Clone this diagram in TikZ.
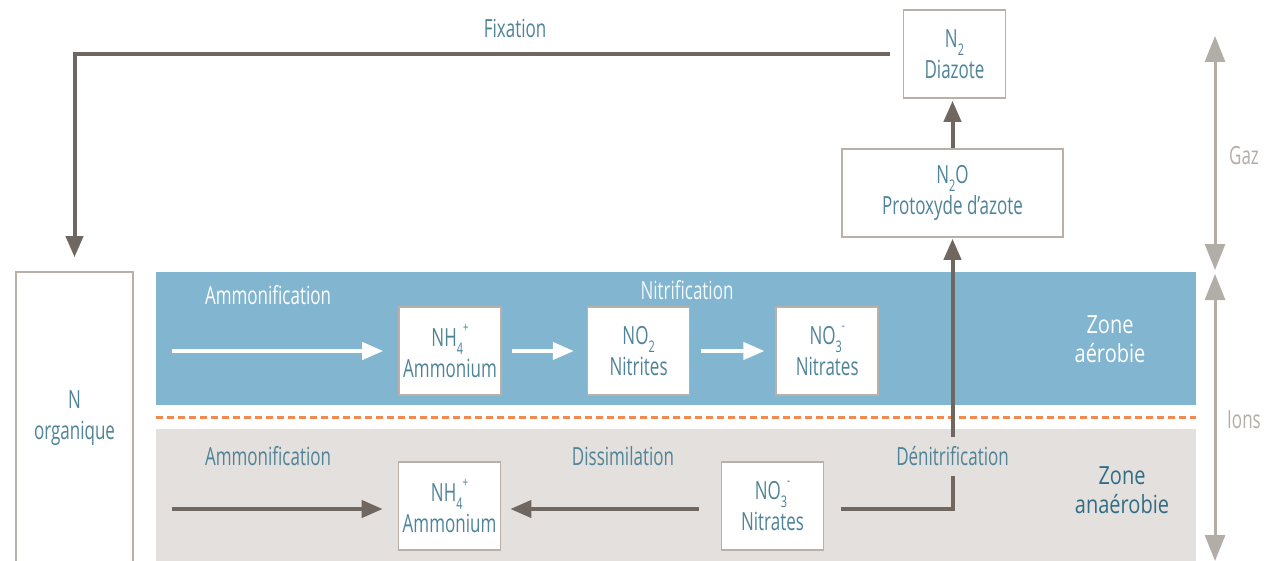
\documentclass[tikz,border=0pt]{standalone}
\usepackage{fontspec}
\setmainfont{Open Sans}[FakeStretch=0.68]
\newfontfamily\zonefont{Open Sans}[FakeStretch=0.8]
\usetikzlibrary{arrows.meta,positioning}
\definecolor{aerobie}{HTML}{82B5CF}
\definecolor{anaerobie}{HTML}{E4E0DD}
\definecolor{cadre}{HTML}{B9B1A9}
\definecolor{brunflux}{HTML}{706761}
\definecolor{bleutexte}{HTML}{4E8398}
\definecolor{bleufonce}{HTML}{316D86}
\definecolor{grisechelle}{HTML}{B3ADA7}
\definecolor{limite}{HTML}{F08A50}
\newcommand{\chembas}[1]{\raisebox{-0.6ex}{\fontsize{8}{8}\selectfont#1}}
\newcommand{\chemhaut}[1]{\raisebox{1.1ex}{\fontsize{7}{7}\selectfont#1}}

\begin{document}
\begin{tikzpicture}[x=0.5pt, y=-0.5pt, node distance=42.5pt,
  every node/.style={font=\fontsize{12.5}{15.5}\selectfont, text=bleutexte},
  espece/.style={draw=cadre, fill=white, line width=0.8pt, minimum width=51pt, minimum height=44pt, align=center, inner sep=1pt},
  fleche/.style={-{Triangle[length=10.5pt,width=8.5pt]}, line width=2pt, draw=brunflux},
  blanche/.style={fleche, draw=white},
  echelle/.style={{Triangle[length=13pt,width=10pt]}-{Triangle[length=13pt,width=10pt]}, line width=1.5pt, draw=grisechelle},
  zone/.style={font=\zonefont\fontsize{12.5}{14.5}\selectfont, align=center}]
\useasboundingbox (0,0) rectangle (1283,561);
\fill[aerobie] (156,272) rectangle (1196,405);
\fill[anaerobie] (156,429) rectangle (1196,561);
\draw[limite, line width=1.5pt, dash pattern=on 3.5pt off 2pt] (156,417) -- (1196,417);

\node[espece, minimum width=58.5pt, minimum height=146pt] (norg) at (74.5,418) {N\\organique};
\node[espece] (n2) at (954.5,54) {N\chembas{2}\\Diazote};
\node[espece, minimum width=110.5pt] (n2o) at (952.5,193) {N\chembas{2}O\\Protoxyde d’azote};

\node[espece] (nh4a) at (450,351) {NH\chembas{4}\chemhaut{+}\\Ammonium};
\node[espece, right=of nh4a] (no2) {NO\chembas{2}\\Nitrites};
\node[espece, right=of no2] (no3a) {NO\chembas{3}\chemhaut{-}\\Nitrates};
\node[espece] (nh4b) at (449.5,506) {NH\chembas{4}\chemhaut{+}\\Ammonium};
\node[espece] (no3b) at (772.5,506) {NO\chembas{3}\chemhaut{-}\\Nitrates};

\node[text=white] (ammA) at (268,295) {Ammonification};
\node[text=white!90!aerobie] (nitri) at (687,290) {Nitrification};
\node[zone, text=white] (zaero) at (1110,339) {Zone\\aérobie};
\node (ammB) at (268,456) {Ammonification};
\node (dissim) at (623,456) {Dissimilation};
\node[zone, text=bleufonce] (zanaero) at (1122,490) {Zone\\anaérobie};
\node[text=grisechelle] (gaz) at (1244,156) {Gaz};
\node[text=grisechelle] (ions) at (1244,420) {Ions};

\coordinate (debutA) at (172,351);
\coordinate (debutB) at (172,509);
\coordinate (gazhaut) at (1215,36);
\coordinate (milieu) at (1215,272);
\coordinate (ionsbas) at (1215,561);

\draw[fleche, shorten <=6.5pt, shorten >=7pt] (n2.west) -| node[pos=0.234, above=4pt] {Fixation} (norg.north);
\draw[fleche, shorten >=1pt] (n2o.north) -- (n2o.north |- n2.south);
\draw[blanche, shorten >=7.5pt] (debutA) -- (nh4a.west);
\draw[blanche, shorten <=5pt, shorten >=6.5pt] (nh4a) -- (no2);
\draw[blanche, shorten <=5.5pt, shorten >=5.5pt] (no2) -- (no3a);
\draw[fleche, shorten >=7.5pt] (debutB) -- (debutB -| nh4b.west);
\draw[fleche, shorten <=11pt, shorten >=4.5pt] ([yshift=-1.5pt]no3b.west) -- ([yshift=-1.5pt]nh4b.east);
\draw[fleche, shorten <=8.5pt, shorten >=0.5pt] ([yshift=-1.5pt]no3b.east) -| node[pos=0.597, fill=anaerobie, inner xsep=1pt, inner ysep=5pt] {Dénitrification} (n2o.south);
\draw[echelle, shorten >=1pt] (gazhaut) -- (milieu);
\draw[echelle, shorten <=1pt] (milieu) -- (ionsbas);
\end{tikzpicture}
\end{document}
